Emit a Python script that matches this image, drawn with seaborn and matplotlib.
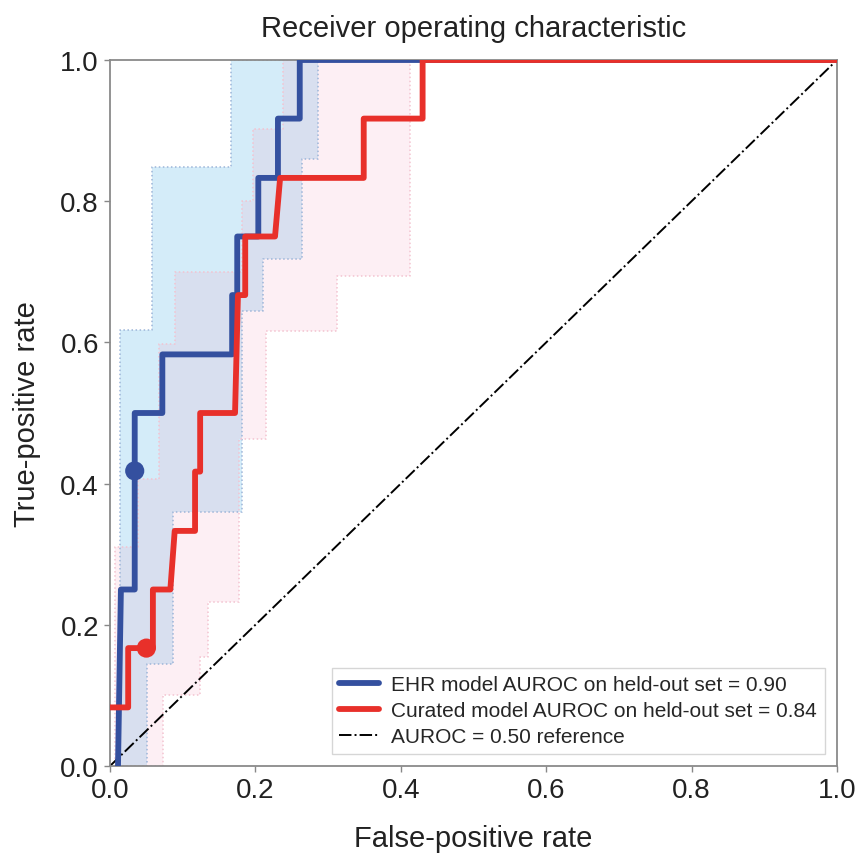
import numpy as np
import pandas as pd
import matplotlib
matplotlib.use("Agg")
import matplotlib.pyplot as plt
import seaborn as sns

# ---------------- data ----------------
ehr_fpr = [0.011, 0.015, 0.034, 0.034, 0.072, 0.072, 0.168, 0.168, 0.175, 0.175,
           0.204, 0.204, 0.231, 0.231, 0.261, 0.261, 1.0]
ehr_tpr = [0.0, 0.25, 0.25, 0.5, 0.5, 0.583, 0.583, 0.667, 0.667, 0.75,
           0.75, 0.833, 0.833, 0.917, 0.917, 1.0, 1.0]

cur_fpr = [0.0, 0.025, 0.025, 0.059, 0.059, 0.083, 0.089, 0.117, 0.117, 0.124,
           0.124, 0.172, 0.176, 0.186, 0.186, 0.227, 0.234, 0.349, 0.349, 0.430,
           0.430, 1.0]
cur_tpr = [0.083, 0.083, 0.167, 0.167, 0.25, 0.25, 0.333, 0.333, 0.417, 0.417,
           0.5, 0.5, 0.667, 0.667, 0.75, 0.75, 0.833, 0.833, 0.917, 0.917,
           1.0, 1.0]

# operating points
ehr_point = (0.034, 0.418)
cur_point = (0.050, 0.167)

# confidence bands (step functions: breakpoints and values)
ehr_up_x = [0.0, 0.014, 0.058, 0.166, 1.0]
ehr_up_y = [0.0, 0.617, 0.848, 1.0, 1.0]
ehr_lo_x = [0.0, 0.051, 0.087, 0.182, 0.210, 0.264, 0.286, 1.0]
ehr_lo_y = [0.0, 0.144, 0.36, 0.644, 0.718, 0.86, 1.0, 1.0]

cur_up_x = [0.0, 0.007, 0.039, 0.067, 0.089, 0.182, 0.197, 0.238, 1.0]
cur_up_y = [0.0, 0.31, 0.406, 0.598, 0.70, 0.80, 0.902, 1.0, 1.0]
cur_lo_x = [0.0, 0.073, 0.124, 0.135, 0.177, 0.215, 0.312, 0.413, 1.0]
cur_lo_y = [0.0, 0.10, 0.154, 0.232, 0.463, 0.616, 0.694, 1.0, 1.0]

ref_x = [0.0, 1.0]
ref_y = [0.0, 1.0]

labels = ["EHR model AUROC on held-out set = 0.90",
          "Curated model AUROC on held-out set = 0.84",
          "AUROC = 0.50 reference"]
ticks = [0.0, 0.2, 0.4, 0.6, 0.8, 1.0]

# ---------------- style ----------------
sns.set_style("white")
plt.rcParams["font.family"] = ["Liberation Sans", "DejaVu Sans"]

BLUE = "#34509f"
RED = "#e8302a"

fig = plt.figure(figsize=(8.58, 8.54), dpi=100)
ax = fig.add_axes([110 / 858, 1 - 767 / 854, 727 / 858, 706 / 854])


def band(ux, uy, lx, ly):
    xs = np.union1d(ux, lx)
    up = np.asarray(uy)[np.searchsorted(ux, xs, side="right") - 1]
    lo = np.asarray(ly)[np.searchsorted(lx, xs, side="right") - 1]
    return xs, lo, up


xs, lo, up = band(ehr_up_x, ehr_up_y, ehr_lo_x, ehr_lo_y)
ax.fill_between(xs, lo, up, step="post", color="#94d0f0", alpha=0.4, lw=0, zorder=1)
ax.step(xs, up, where="post", color="#9db5d8", ls=":", lw=1.1, zorder=1.5)
ax.step(xs, lo, where="post", color="#9db5d8", ls=":", lw=1.1, zorder=1.5)

xs, lo, up = band(cur_up_x, cur_up_y, cur_lo_x, cur_lo_y)
ax.fill_between(xs, lo, up, step="post", color="#f29ab8", alpha=0.15, lw=0, zorder=1.2)
ax.step(xs, up, where="post", color="#f3c3d0", ls=":", lw=1.1, zorder=1.5)
ax.step(xs, lo, where="post", color="#f3c3d0", ls=":", lw=1.1, zorder=1.5)

sns.lineplot(x=ehr_fpr, y=ehr_tpr, sort=False, estimator=None, color=BLUE, lw=4.2,
             label=labels[0], ax=ax, zorder=3)
sns.lineplot(x=cur_fpr, y=cur_tpr, sort=False, estimator=None, color=RED, lw=4.2,
             label=labels[1], ax=ax, zorder=3.2)
sns.lineplot(x=ref_x, y=ref_y, sort=False, estimator=None, color="black", lw=1.4,
             ls="-.", label=labels[2], ax=ax, zorder=2)

sns.scatterplot(x=[ehr_point[0]], y=[ehr_point[1]], color=BLUE, s=190, ax=ax,
                zorder=4, edgecolor="none", legend=False)
sns.scatterplot(x=[cur_point[0]], y=[cur_point[1]], color=RED, s=190, ax=ax,
                zorder=4, edgecolor="none", legend=False)

ax.set_xlim(0, 1)
ax.set_ylim(0, 1)
ax.set_xticks(ticks)
ax.set_yticks(ticks)
ax.set_xticklabels([f"{t:.1f}" for t in ticks])
ax.set_yticklabels([f"{t:.1f}" for t in ticks])
ax.tick_params(axis="both", labelsize=20, length=4, width=1, color="#888888",
               direction="out", pad=4, bottom=True, left=True, labelcolor="#222222")
for s in ax.spines.values():
    s.set_visible(True)
    s.set_color("#8a8a8a")
    s.set_linewidth(1.3)

ax.set_title("Receiver operating characteristic", fontsize=21, pad=17, color="#222222")
ax.set_xlabel("False-positive rate", fontsize=21, labelpad=15, color="#222222")
ax.set_ylabel("True-positive rate", fontsize=21, labelpad=14, color="#222222")

leg = ax.legend(loc="lower right", fontsize=15, frameon=True, fancybox=False,
                edgecolor="#cccccc", handlelength=1.9, handletextpad=0.6,
                borderaxespad=0.6, labelspacing=0.33, borderpad=0.35)
leg.get_frame().set_linewidth(1.0)

fig.savefig("out.png", dpi=100)
